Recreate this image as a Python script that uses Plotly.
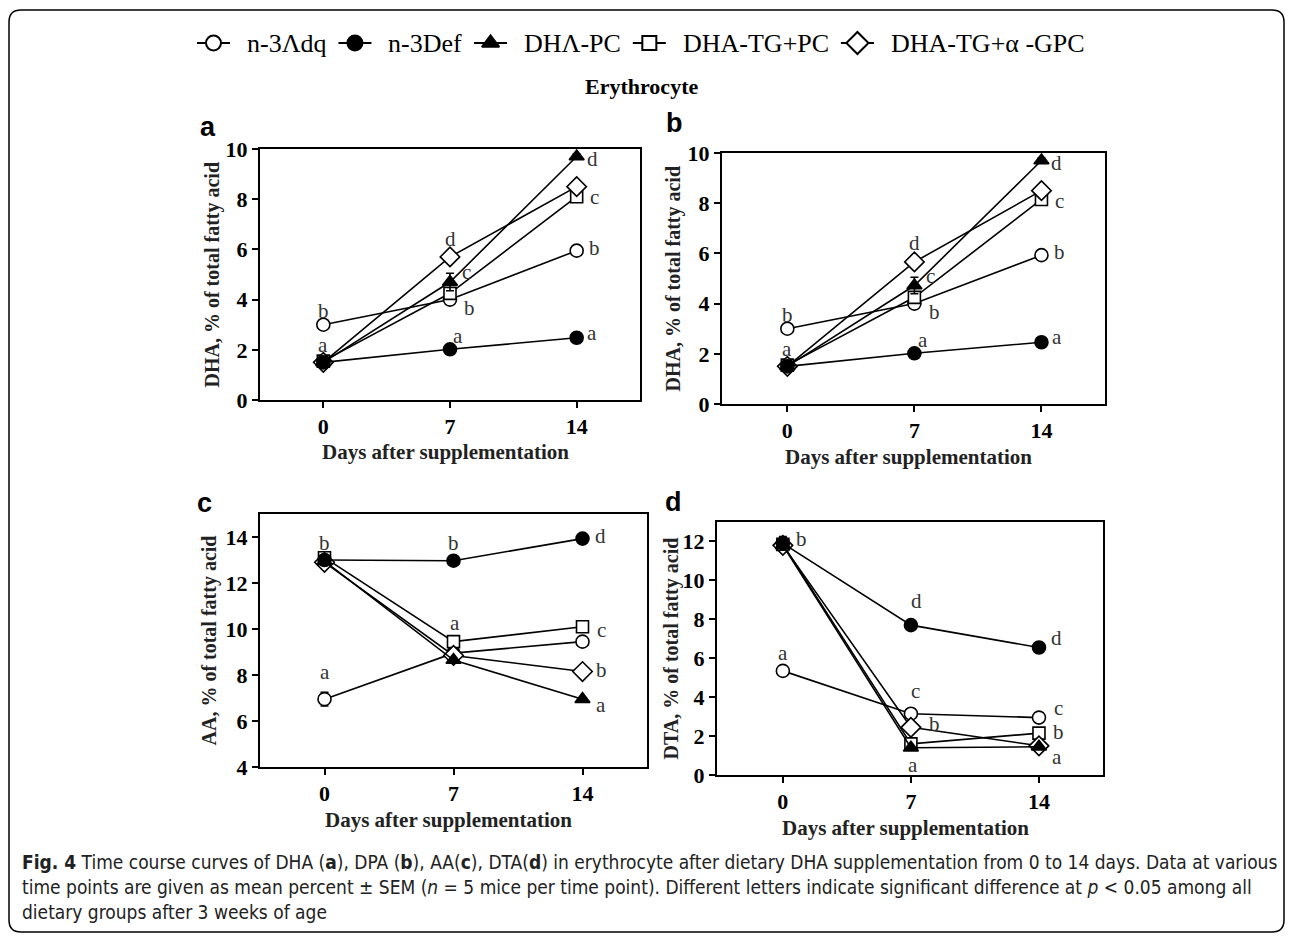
import plotly.graph_objects as go

W, H = 1292, 936

days = [0, 7, 14]
groups = ["n-3Λdq", "n-3Def", "DHΛ-PC", "DHA-TG+PC", "DHA-TG+α -GPC"]
y_ticks_dha = [0, 2, 4, 6, 8, 10]
y_ticks_aa = [4, 6, 8, 10, 12, 14]
y_ticks_dta = [0, 2, 4, 6, 8, 10, 12]

# Panel a: DHA
a_n3adq = [3.0, 4.0, 5.95]
a_n3def = [1.5, 2.02, 2.48]
a_dhapc = [1.5, 4.7, 9.7]
a_tgpc = [1.55, 4.25, 8.1]
a_tggpc = [1.5, 5.7, 8.5]
a_err_dhapc = [0.1, 0.35, 0.1]

# Panel b: DHA (as labelled)
b_n3adq = [3.0, 4.0, 5.93]
b_n3def = [1.5, 2.02, 2.46]
b_dhapc = [1.5, 4.72, 9.7]
b_tgpc = [1.55, 4.25, 8.15]
b_tggpc = [1.5, 5.66, 8.5]
b_err_dhapc = [0.1, 0.33, 0.1]

# Panel c: AA
c_n3adq = [6.95, 8.95, 9.45]
c_n3def = [13.0, 12.97, 13.93]
c_dhapc = [12.95, 8.65, 6.95]
c_tgpc = [13.1, 9.45, 10.1]
c_tggpc = [12.9, 8.85, 8.15]
c_err_n3adq = [0.3, 0.1, 0.1]
c_err_tggpc = [0.1, 0.1, 0.25]

# Panel d: DTA
d_n3adq = [5.35, 3.15, 2.95]
d_n3def = [11.9, 7.7, 6.55]
d_dhapc = [11.8, 1.4, 1.45]
d_tgpc = [11.85, 1.6, 2.15]
d_tggpc = [11.8, 2.45, 1.5]
d_err_n3def = [0.35, 0.1, 0.1]

# significance letters: (letter, day, value)
a_letters = [("b", 0, 3.55), ("a", 0, 2.2), ("d", 7, 6.4), ("c", 7.9, 5.1), ("b", 8.1, 3.65),
             ("a", 7.45, 2.55), ("d", 14.85, 9.6), ("c", 15.0, 8.1), ("b", 15.0, 6.05), ("a", 14.85, 2.65)]
b_letters = [("b", 0, 3.55), ("a", 0, 2.2), ("d", 7, 6.4), ("c", 7.9, 5.1), ("b", 8.1, 3.65),
             ("a", 7.45, 2.55), ("d", 14.85, 9.6), ("c", 15.0, 8.1), ("b", 15.0, 6.05), ("a", 14.85, 2.65)]
c_letters = [("b", 0, 13.75), ("a", 0, 8.15), ("b", 7, 13.75), ("a", 7.1, 10.26),
             ("d", 15.0, 14.05), ("c", 15.05, 9.97), ("b", 15.05, 8.22), ("a", 15.0, 6.7)]
d_letters = [("b", 1.0, 12.13), ("a", 0, 6.28), ("d", 7.3, 8.95), ("c", 7.25, 4.3),
             ("b", 8.3, 2.63), ("a", 7.1, 0.52), ("d", 14.95, 7.06), ("c", 15.05, 3.44),
             ("b", 15.05, 2.19), ("a", 15.0, 0.95)]

panels = [
    dict(ax="x", ay="y", px=(260, 640), py=(149, 400), xr=[-3.5, 17.5], yr=[0, 10], yt=y_ticks_dha,
         series=[a_n3adq, a_n3def, a_dhapc, a_tgpc, a_tggpc],
         errs={2: a_err_dhapc}, letters=a_letters, ytitle="DHA, % of total fatty acid",
         lab="a", lab_xy=(208, 127), yt_x=212, xt_y=452),
    dict(ax="x2", ay="y2", px=(722, 1105), py=(153, 404), xr=[-3.6, 17.5], yr=[0, 10], yt=y_ticks_dha,
         series=[b_n3adq, b_n3def, b_dhapc, b_tgpc, b_tggpc],
         errs={2: b_err_dhapc}, letters=b_letters, ytitle="DHA, % of total fatty acid",
         lab="b", lab_xy=(674, 123), yt_x=673, xt_y=457),
    dict(ax="x3", ay="y3", px=(260, 647), py=(514, 767), xr=[-3.5, 17.5], yr=[4, 15], yt=y_ticks_aa,
         series=[c_n3adq, c_n3def, c_dhapc, c_tgpc, c_tggpc],
         errs={0: c_err_n3adq, 4: c_err_tggpc}, letters=c_letters, ytitle="AA, % of total fatty acid",
         lab="c", lab_xy=(204, 503), yt_x=209, xt_y=820),
    dict(ax="x4", ay="y4", px=(717, 1103), py=(522, 775), xr=[-3.6, 17.5], yr=[0, 13], yt=y_ticks_dta,
         series=[d_n3adq, d_n3def, d_dhapc, d_tgpc, d_tggpc],
         errs={1: d_err_n3def}, letters=d_letters, ytitle="DTA, % of total fatty acid",
         lab="d", lab_xy=(673, 502), yt_x=671, xt_y=828),
]

styles = [
    dict(symbol="circle", color="white", size=13),
    dict(symbol="circle", color="black", size=13),
    dict(symbol="triangle-up", color="black", size=13),
    dict(symbol="square", color="white", size=12),
    dict(symbol="diamond", color="white", size=15),
]
draw_order = [0, 3, 4, 1, 2]  # filled markers on top, as in the reference

SERIF = "Liberation Serif, Times New Roman, serif"
fig = go.Figure()
annotations = []


def px2x(p):
    return p / W


def py2y(p):
    return 1 - p / H


def ann(xp, yp, text, size, family=SERIF, color="black", angle=0, xanchor="center"):
    return dict(x=px2x(xp), y=py2y(yp), xref="paper", yref="paper", text=text, showarrow=False,
                xanchor=xanchor, yanchor="middle", textangle=angle,
                font=dict(family=family, size=size, color=color))


for pi, P in enumerate(panels):
    for si in draw_order:
        ys = P["series"][si]
        st = styles[si]
        err = P["errs"].get(si)
        fig.add_trace(go.Scatter(
            x=days, y=ys, xaxis=P["ax"], yaxis=P["ay"],
            mode="lines+markers", name=groups[si], showlegend=False,
            line=dict(color="black", width=1.6),
            marker=dict(symbol=st["symbol"], size=st["size"], color=st["color"],
                        line=dict(color="black", width=1.6)),
            error_y=(dict(type="data", array=err, color="black", thickness=1.6, width=4)
                     if err is not None else None),
        ))
    for (t, xv, yv) in P["letters"]:
        annotations.append(dict(x=xv, y=yv, xref=P["ax"], yref=P["ay"], text=t, showarrow=False,
                                xanchor="center", yanchor="middle",
                                font=dict(family=SERIF, size=21, color="#333")))
    x0, x1 = P["px"]
    y0, y1 = P["py"]
    common = dict(ticks="outside", ticklen=6, tickwidth=2, tickcolor="black",
                  showline=True, linecolor="black", linewidth=2, mirror=True,
                  showgrid=False, zeroline=False, fixedrange=True,
                  tickfont=dict(family=SERIF, size=22, color="black", weight="bold"))
    xa = dict(domain=[px2x(x0), px2x(x1)], range=P["xr"], anchor=P["ay"], tickvals=days, **common)
    ya = dict(domain=[py2y(y1), py2y(y0)], range=P["yr"], anchor=P["ax"], tickvals=P["yt"], **common)
    suffix = "" if pi == 0 else str(pi + 1)
    fig.layout["xaxis" + suffix] = xa
    fig.layout["yaxis" + suffix] = ya
    annotations.append(ann(P["yt_x"], (y0 + y1) / 2, "<b>" + P["ytitle"] + "</b>", 20,
                           color="#222", angle=-90))
    annotations.append(ann((x0 + x1) / 2 - 5, P["xt_y"], "<b>Days after supplementation</b>", 21,
                           color="#222"))
    annotations.append(ann(P["lab_xy"][0], P["lab_xy"][1], "<b>" + P["lab"] + "</b>", 27,
                           family="Liberation Sans, Arial, sans-serif"))

annotations.append(ann(641, 86, "<b>Erythrocyte</b>", 22))

# ---- legend drawn on a full-figure overlay axis (pixel units) ----
TIMES_W = {'n': 500, '-': 333, '3': 500, 'Λ': 722, 'd': 500, 'q': 500, 'D': 722, 'e': 444,
           'f': 333, 'H': 722, 'P': 556, 'C': 667, 'A': 722, 'T': 611, 'G': 722, '+': 564,
           'α': 550, ' ': 250}
LEG_FONT = 26
sym_w, gap_sym, gap_item = 33, 15, 14
lx = 197
ly = 43
for si, g in enumerate(groups):
    st = styles[si]
    tw = sum(TIMES_W.get(ch, 500) for ch in g) / 1000 * LEG_FONT
    fig.add_trace(go.Scatter(x=[lx, lx + sym_w], y=[ly, ly], xaxis="x5", yaxis="y5", mode="lines",
                             line=dict(color="black", width=2), showlegend=False, hoverinfo="skip"))
    fig.add_trace(go.Scatter(x=[lx + sym_w / 2], y=[ly], xaxis="x5", yaxis="y5", mode="markers",
                             marker=dict(symbol=st["symbol"], size=st["size"] + 2, color=st["color"],
                                         line=dict(color="black", width=2)),
                             showlegend=False, hoverinfo="skip"))
    tx = lx + sym_w + gap_sym
    annotations.append(ann(tx, ly, g, LEG_FONT, xanchor="left"))
    lx = tx + tw + gap_item

fig.layout["xaxis5"] = dict(domain=[0, 1], range=[0, W], visible=False, fixedrange=True, anchor="y5")
fig.layout["yaxis5"] = dict(domain=[0, 1], range=[H, 0], visible=False, fixedrange=True, anchor="x5")

CAP = "Liberation Sans Narrow, DejaVu Sans Condensed, Arial Narrow, sans-serif"
cap_lines = [
    "<b>Fig. 4</b> Time course curves of DHA (<b>a</b>), DPA (<b>b</b>), AA(<b>c</b>), DTA(<b>d</b>) in erythrocyte after dietary DHA supplementation from 0 to 14 days. Data at various",
    "time points are given as mean percent ± SEM (<i>n</i> = 5 mice per time point). Different letters indicate significant difference at <i>p</i> &lt; 0.05 among all",
    "dietary groups after 3 weeks of age",
]
for i, line in enumerate(cap_lines):
    annotations.append(ann(20, 862 + 25 * i, line, 19, family=CAP, color="#222", xanchor="left"))

rx, ry = 12 / W, 12 / H
L, R, T, B = 9 / W, 1284 / W, 1 - 10 / H, 1 - 932 / H
path = (f"M {L+rx} {T} L {R-rx} {T} Q {R} {T} {R} {T-ry} L {R} {B+ry} Q {R} {B} {R-rx} {B} "
        f"L {L+rx} {B} Q {L} {B} {L} {B+ry} L {L} {T-ry} Q {L} {T} {L+rx} {T} Z")

fig.update_layout(
    width=W, height=H, margin=dict(l=0, r=0, t=0, b=0, autoexpand=False),
    paper_bgcolor="white", plot_bgcolor="rgba(0,0,0,0)",
    annotations=annotations,
    shapes=[dict(type="path", path=path, xref="paper", yref="paper",
                 line=dict(color="black", width=1.5), layer="below")],
    showlegend=False,
)

fig.write_html("out.html", config={"displayModeBar": False},
               post_script="document.body.style.margin='0';")
